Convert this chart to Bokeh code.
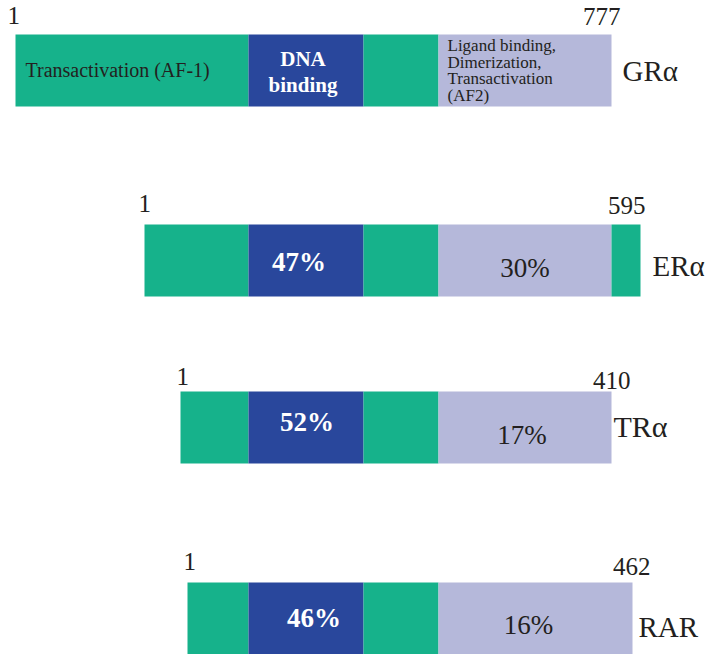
from bokeh.plotting import figure
from bokeh.models import Range1d, ColumnDataSource
from bokeh.core.properties import value
from bokeh.embed import file_html
from bokeh.resources import INLINE

# ---------------- data ----------------
proteins = ["GRα", "ERα", "TRα", "RAR"]
lengths = [777, 595, 410, 462]
# domain boundaries along the aligned axis (DNA-binding domains aligned)
gr_bounds = [15, 248, 363, 438, 611]
er_bounds = [144, 248, 363, 438, 611, 640]
tr_bounds = [180, 248, 363, 438, 611]
rar_bounds = [187, 248, 363, 438, 632]
gr_domains = ["AF1", "DBD", "hinge", "LBD"]
er_domains = ["AF1", "DBD", "hinge", "LBD", "F"]
tr_domains = ["AF1", "DBD", "hinge", "LBD"]
rar_domains = ["AF1", "DBD", "hinge", "LBD"]
dbd_identity = [None, 47, 52, 46]   # % identity to GRα
lbd_identity = [None, 30, 17, 16]
gr_af1_label = "Transactivation (AF-1)"
gr_dbd_label = ["DNA", "binding"]
gr_lbd_label = ["Ligand binding,", "Dimerization,", "Transactivation", "(AF2)"]

all_bounds = [gr_bounds, er_bounds, tr_bounds, rar_bounds]
all_domains = [gr_domains, er_domains, tr_domains, rar_domains]

# ---------------- layout / style ----------------
row_top = [34, 224, 391, 582]
bar_h = 72
colors = {"AF1": "#16B28B", "DBD": "#29479C", "hinge": "#16B28B",
          "LBD": "#B5B8DA", "F": "#16B28B"}
FONT = value("Liberation Serif")
DARK = "#231F20"

# text centre offsets (text_baseline="middle")
start_dx = [-8, -6, -4, -4]
start_dy = [-19, -21, -15, -21]
len_dx = [9, 5, 19, 18]
len_dy = [-18, -19, -11, -16]
name_dx = [11, 12, 2, 6]
name_dy = [36, 41, 35, 44]
name_size = ["29px", "29px", "30px", "29px"]
dbd_dx = [0, -7, 1, 8]
dbd_dy = [0, 37, 30, 35]
lbd_dx = [0, 0, -3, -7]
lbd_dy = [0, 43, 43, 42]

p = figure(width=709, height=654, x_range=Range1d(0, 709), y_range=Range1d(654, 0),
           output_backend="svg", toolbar_location=None,
           x_axis_location=None, y_axis_location=None, min_border=0,
           outline_line_color=None, background_fill_color="white")
p.xgrid.visible = False
p.ygrid.visible = False

# bars
L, R, T, B, C = [], [], [], [], []
for i, (bounds, doms) in enumerate(zip(all_bounds, all_domains)):
    for j, d in enumerate(doms):
        L.append(bounds[j]); R.append(bounds[j + 1])
        T.append(row_top[i]); B.append(row_top[i] + bar_h)
        C.append(colors[d])
p.quad(left="left", right="right", top="top", bottom="bottom", fill_color="color",
       line_color=None, source=ColumnDataSource(dict(left=L, right=R, top=T, bottom=B, color=C)))

def txt(xs, ys, texts, size, align="left", color=DARK, style="normal"):
    p.text(x=xs, y=ys, text=texts, text_font=FONT, text_font_size=value(size),
           text_align=align, text_baseline="middle", text_color=color,
           text_font_style=style)

# start "1" labels
txt([b[0] + dx for b, dx in zip(all_bounds, start_dx)],
    [t + dy for t, dy in zip(row_top, start_dy)], ["1"] * 4, "25px")
# length labels
txt([b[-1] + dx for b, dx in zip(all_bounds, len_dx)],
    [t + dy for t, dy in zip(row_top, len_dy)], [str(v) for v in lengths], "25px", align="right")
# protein names
for i in range(4):
    txt([all_bounds[i][-1] + name_dx[i]], [row_top[i] + name_dy[i]], [proteins[i]], name_size[i])

# identity percentages
for i in range(1, 4):
    b = all_bounds[i]
    dbd_c = (b[1] + b[2]) / 2
    lbd_c = (b[3] + b[4]) / 2
    txt([dbd_c + dbd_dx[i]], [row_top[i] + dbd_dy[i]], [f"{dbd_identity[i]}%"], "27px",
        align="center", color="white", style="bold")
    txt([lbd_c + lbd_dx[i]], [row_top[i] + lbd_dy[i]], [f"{lbd_identity[i]}%"], "27px",
        align="center")

# GR domain labels
txt([gr_bounds[0] + 10], [row_top[0] + 35], [gr_af1_label], "20px")
dc = (gr_bounds[1] + gr_bounds[2]) / 2 - 3
txt([dc, dc], [row_top[0] + 24, row_top[0] + 50], gr_dbd_label, "21px",
    align="center", color="white", style="bold")
txt([gr_bounds[3] + 9] * 4, [row_top[0] + 11 + 16.5 * k for k in range(4)],
    gr_lbd_label, "17px")

open("out.html", "w").write(file_html(p, INLINE))
